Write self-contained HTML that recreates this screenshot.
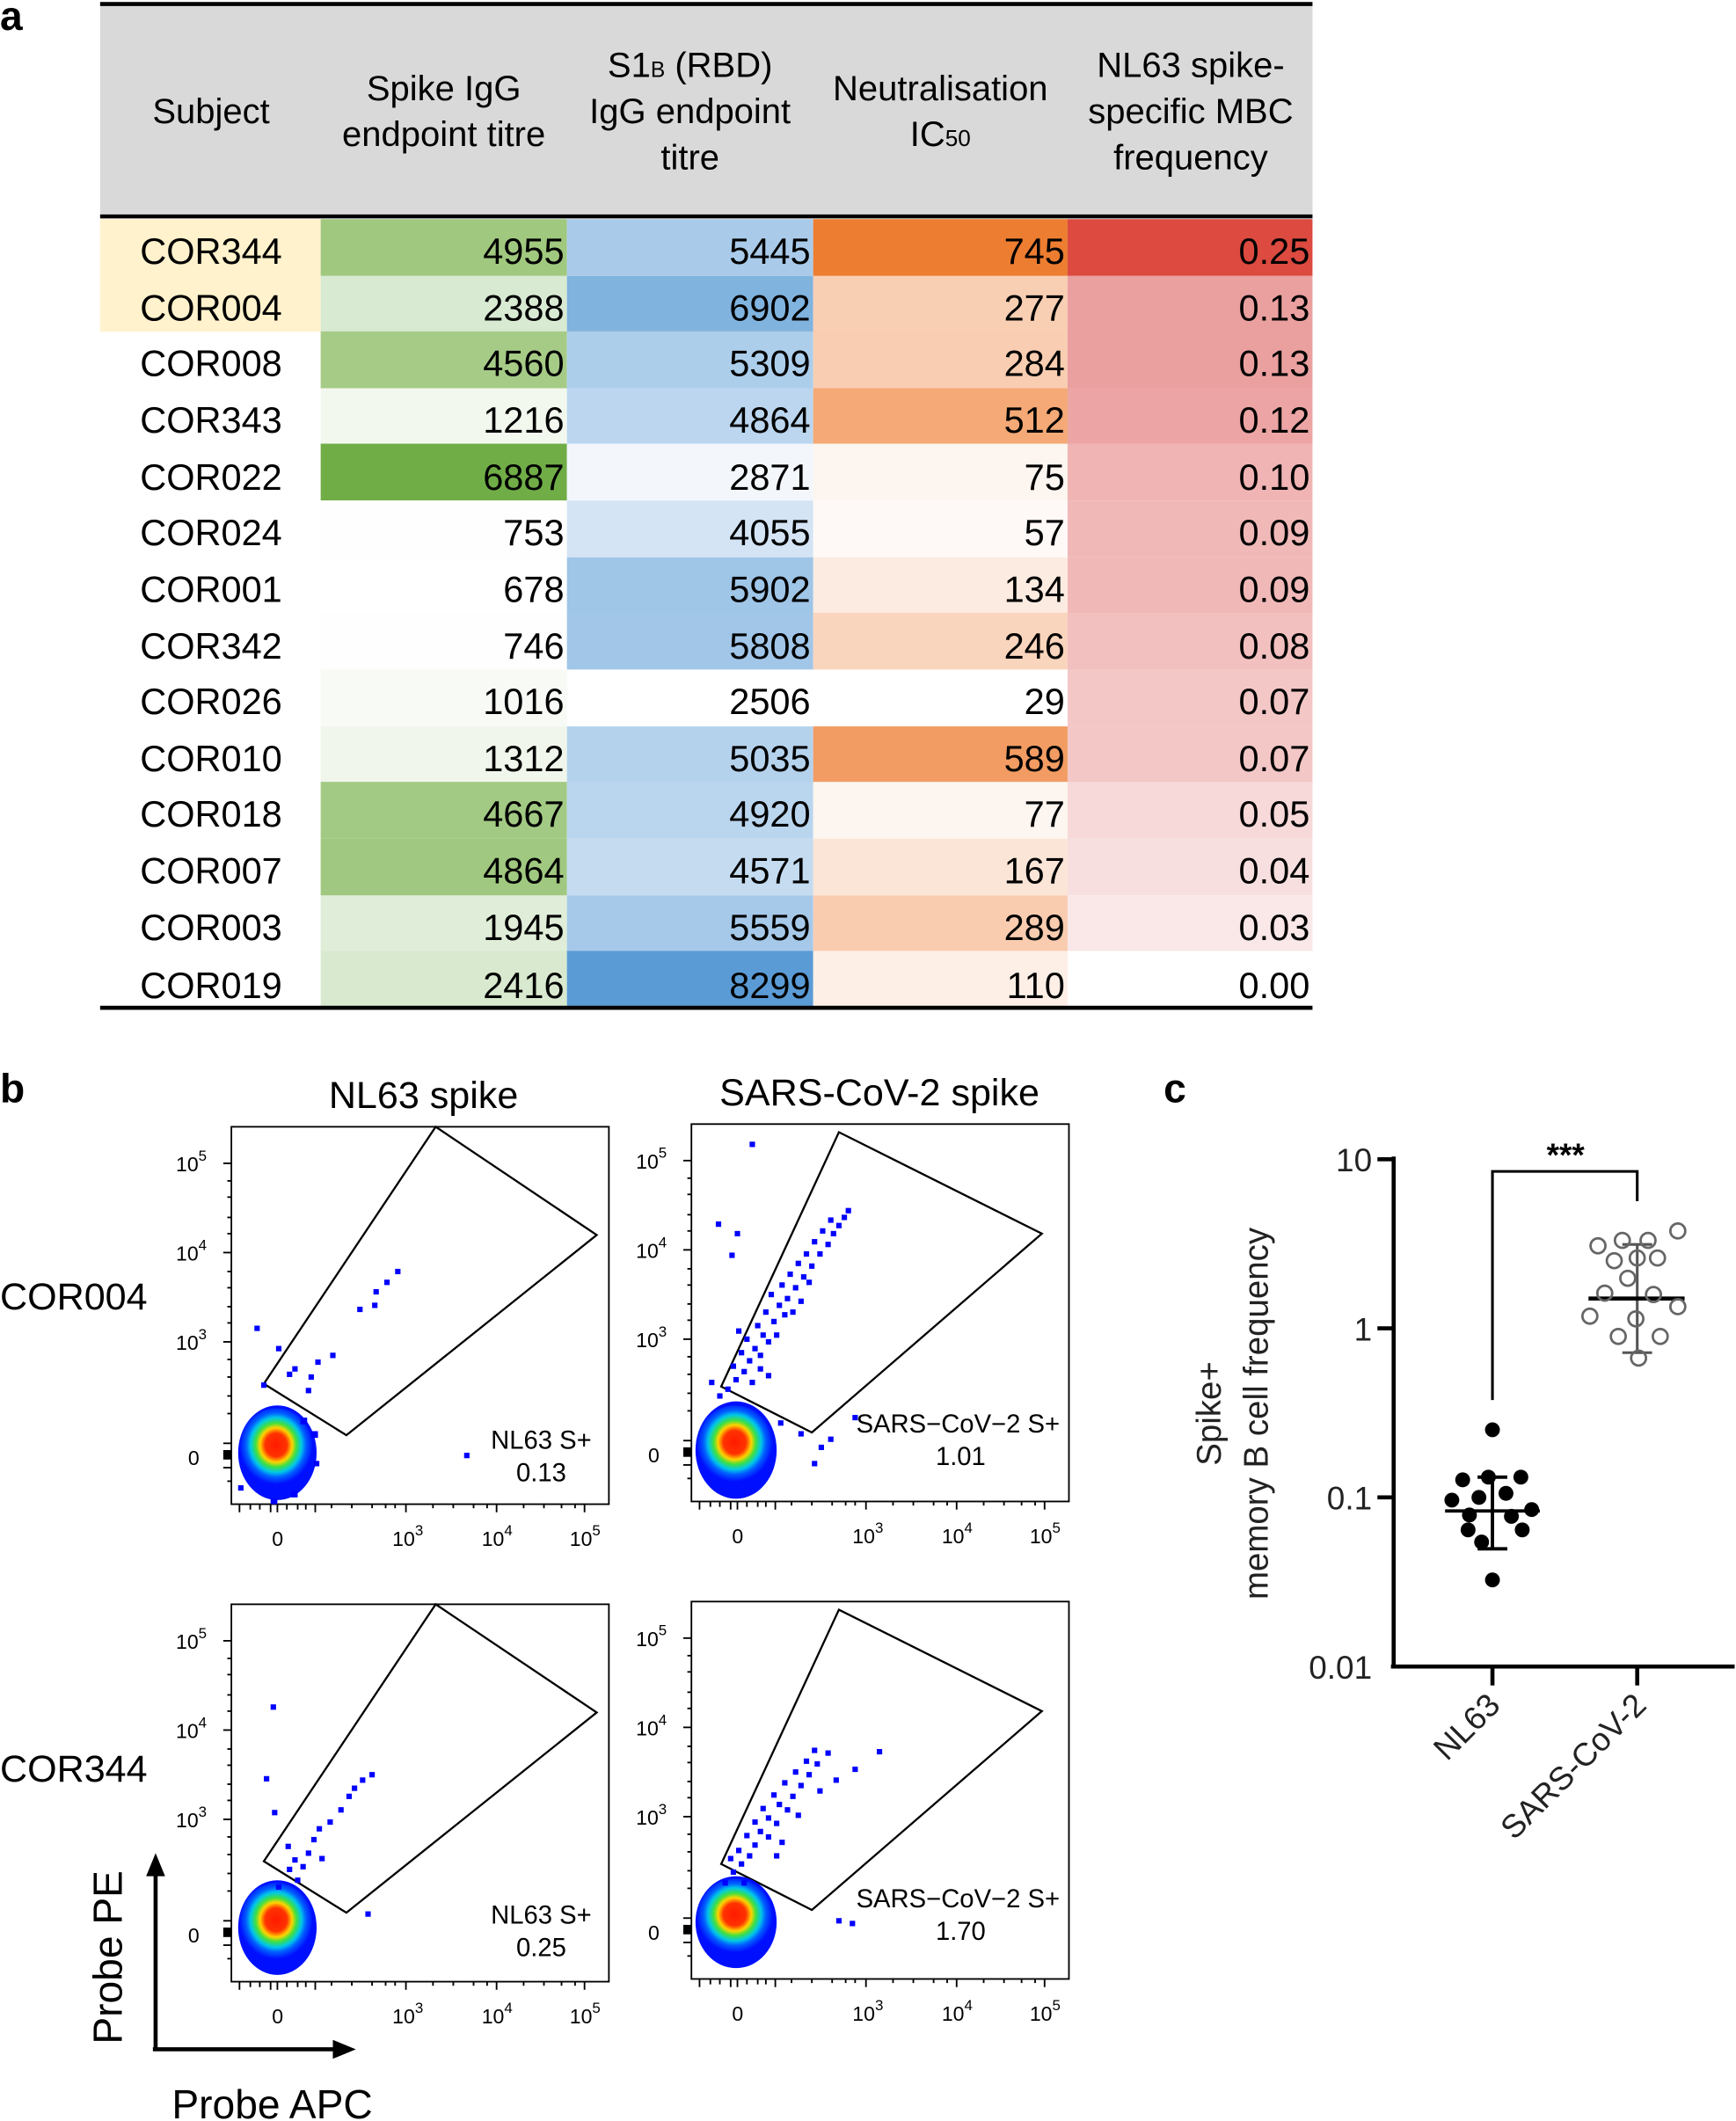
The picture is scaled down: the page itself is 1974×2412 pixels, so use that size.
<!DOCTYPE html>
<html><head><meta charset="utf-8"><style>
html,body{margin:0;padding:0;background:#fff}
svg{display:block}
text{font-family:"Liberation Sans","DejaVu Sans",sans-serif}
.t{font-size:27px;fill:#000}
.h{font-size:26px;fill:#000;text-anchor:middle}
.tk{font-family:"DejaVu Sans",sans-serif;font-size:15px;fill:#000}
</style></head><body>
<svg width="1974" height="2412" viewBox="0 0 1283 1568" preserveAspectRatio="none" xmlns="http://www.w3.org/2000/svg">
<defs>
<radialGradient id="cl" cx="50%" cy="47%" r="50%">
<stop offset="0" stop-color="#ff1a00"/><stop offset="0.3" stop-color="#ff3300"/>
<stop offset="0.44" stop-color="#ffd400"/><stop offset="0.56" stop-color="#40e040"/>
<stop offset="0.7" stop-color="#00c8e8"/><stop offset="0.82" stop-color="#0060ff"/>
<stop offset="1" stop-color="#0010ff"/></radialGradient>
</defs>
<text x="0" y="22" style="font-size:30px;font-weight:bold">a</text>
<rect x="74" y="3" width="896" height="157" fill="#d9d9d9"/>
<line x1="74" y1="3" x2="970" y2="3" stroke="#000" stroke-width="3"/>
<line x1="74" y1="160" x2="970" y2="160" stroke="#000" stroke-width="3"/>
<text class="h" x="156" y="91">Subject</text>
<text class="h" x="328" y="74">Spike IgG</text><text class="h" x="328" y="108">endpoint titre</text>
<text class="h" x="510" y="57">S1<tspan font-size="16">B</tspan> (RBD)</text><text class="h" x="510" y="91">IgG endpoint</text><text class="h" x="510" y="125">titre</text>
<text class="h" x="695" y="74">Neutralisation</text><text class="h" x="695" y="108">IC<tspan font-size="17">50</tspan></text>
<text class="h" x="880" y="57">NL63 spike-</text><text class="h" x="880" y="91">specific MBC</text><text class="h" x="880" y="125">frequency</text>
<g>
<rect x="74" y="162" width="163" height="83.2" fill="#fff2cc"/>
<rect x="237" y="162" width="182" height="42" fill="#a0c87f"/>
<rect x="237" y="204" width="182" height="42" fill="#d9ead3"/>
<rect x="237" y="245" width="182" height="42" fill="#a6cb87"/>
<rect x="237" y="287" width="182" height="42" fill="#f3f8ef"/>
<rect x="237" y="328" width="182" height="42" fill="#70ad47"/>
<rect x="237" y="370" width="182" height="42" fill="#fefefe"/>
<rect x="237" y="412" width="182" height="42" fill="#ffffff"/>
<rect x="237" y="453" width="182" height="42" fill="#fefefe"/>
<rect x="237" y="495" width="182" height="42" fill="#f7faf5"/>
<rect x="237" y="537" width="182" height="42" fill="#f0f6ec"/>
<rect x="237" y="578" width="182" height="42" fill="#a3ca84"/>
<rect x="237" y="620" width="182" height="42" fill="#a0c880"/>
<rect x="237" y="662" width="182" height="42" fill="#e0eed9"/>
<rect x="237" y="703" width="182" height="42" fill="#d8e9cf"/>
<rect x="419" y="162" width="182" height="42" fill="#a9cbe9"/>
<rect x="419" y="204" width="182" height="42" fill="#80b3de"/>
<rect x="419" y="245" width="182" height="42" fill="#adceeb"/>
<rect x="419" y="287" width="182" height="42" fill="#bbd6ee"/>
<rect x="419" y="328" width="182" height="42" fill="#f3f7fc"/>
<rect x="419" y="370" width="182" height="42" fill="#d4e4f4"/>
<rect x="419" y="412" width="182" height="42" fill="#9fc5e7"/>
<rect x="419" y="453" width="182" height="42" fill="#a1c6e8"/>
<rect x="419" y="495" width="182" height="42" fill="#ffffff"/>
<rect x="419" y="537" width="182" height="42" fill="#b5d2ed"/>
<rect x="419" y="578" width="182" height="42" fill="#bad5ee"/>
<rect x="419" y="620" width="182" height="42" fill="#c4dbf0"/>
<rect x="419" y="662" width="182" height="42" fill="#a6c9e9"/>
<rect x="419" y="703" width="182" height="42" fill="#5b9bd5"/>
<rect x="601" y="162" width="188" height="42" fill="#ed7d31"/>
<rect x="601" y="204" width="188" height="42" fill="#f9cfb4"/>
<rect x="601" y="245" width="188" height="42" fill="#f9cdb1"/>
<rect x="601" y="287" width="188" height="42" fill="#f4a976"/>
<rect x="601" y="328" width="188" height="42" fill="#fdf5f0"/>
<rect x="601" y="370" width="188" height="42" fill="#fef9f6"/>
<rect x="601" y="412" width="188" height="42" fill="#fcebe0"/>
<rect x="601" y="453" width="188" height="42" fill="#fad5bd"/>
<rect x="601" y="495" width="188" height="42" fill="#ffffff"/>
<rect x="601" y="537" width="188" height="42" fill="#f29c63"/>
<rect x="601" y="578" width="188" height="42" fill="#fdf5f0"/>
<rect x="601" y="620" width="188" height="42" fill="#fbe5d6"/>
<rect x="601" y="662" width="188" height="42" fill="#f9ccb0"/>
<rect x="601" y="703" width="188" height="42" fill="#fdefe6"/>
<rect x="789" y="162" width="181" height="42" fill="#dc4a40"/>
<rect x="789" y="204" width="181" height="42" fill="#eba0a0"/>
<rect x="789" y="245" width="181" height="42" fill="#eba0a0"/>
<rect x="789" y="287" width="181" height="42" fill="#eca5a4"/>
<rect x="789" y="328" width="181" height="42" fill="#efb4b3"/>
<rect x="789" y="370" width="181" height="42" fill="#f0b9b8"/>
<rect x="789" y="412" width="181" height="42" fill="#f0b9b8"/>
<rect x="789" y="453" width="181" height="42" fill="#f2c0bf"/>
<rect x="789" y="495" width="181" height="42" fill="#f3c7c6"/>
<rect x="789" y="537" width="181" height="42" fill="#f3c7c6"/>
<rect x="789" y="578" width="181" height="42" fill="#f7d9d9"/>
<rect x="789" y="620" width="181" height="42" fill="#f8dfdf"/>
<rect x="789" y="662" width="181" height="42" fill="#fae7e7"/>
<rect x="789" y="703" width="181" height="42" fill="#ffffff"/>
</g>
<line x1="74" y1="745" x2="970" y2="745" stroke="#000" stroke-width="3"/>
<g class="t">
<text x="156" y="195" text-anchor="middle">COR344</text><text x="417" y="195" text-anchor="end">4955</text><text x="599" y="195" text-anchor="end">5445</text><text x="787" y="195" text-anchor="end">745</text><text x="968" y="195" text-anchor="end">0.25</text>
<text x="156" y="237" text-anchor="middle">COR004</text><text x="417" y="237" text-anchor="end">2388</text><text x="599" y="237" text-anchor="end">6902</text><text x="787" y="237" text-anchor="end">277</text><text x="968" y="237" text-anchor="end">0.13</text>
<text x="156" y="278" text-anchor="middle">COR008</text><text x="417" y="278" text-anchor="end">4560</text><text x="599" y="278" text-anchor="end">5309</text><text x="787" y="278" text-anchor="end">284</text><text x="968" y="278" text-anchor="end">0.13</text>
<text x="156" y="320" text-anchor="middle">COR343</text><text x="417" y="320" text-anchor="end">1216</text><text x="599" y="320" text-anchor="end">4864</text><text x="787" y="320" text-anchor="end">512</text><text x="968" y="320" text-anchor="end">0.12</text>
<text x="156" y="362" text-anchor="middle">COR022</text><text x="417" y="362" text-anchor="end">6887</text><text x="599" y="362" text-anchor="end">2871</text><text x="787" y="362" text-anchor="end">75</text><text x="968" y="362" text-anchor="end">0.10</text>
<text x="156" y="403" text-anchor="middle">COR024</text><text x="417" y="403" text-anchor="end">753</text><text x="599" y="403" text-anchor="end">4055</text><text x="787" y="403" text-anchor="end">57</text><text x="968" y="403" text-anchor="end">0.09</text>
<text x="156" y="445" text-anchor="middle">COR001</text><text x="417" y="445" text-anchor="end">678</text><text x="599" y="445" text-anchor="end">5902</text><text x="787" y="445" text-anchor="end">134</text><text x="968" y="445" text-anchor="end">0.09</text>
<text x="156" y="487" text-anchor="middle">COR342</text><text x="417" y="487" text-anchor="end">746</text><text x="599" y="487" text-anchor="end">5808</text><text x="787" y="487" text-anchor="end">246</text><text x="968" y="487" text-anchor="end">0.08</text>
<text x="156" y="528" text-anchor="middle">COR026</text><text x="417" y="528" text-anchor="end">1016</text><text x="599" y="528" text-anchor="end">2506</text><text x="787" y="528" text-anchor="end">29</text><text x="968" y="528" text-anchor="end">0.07</text>
<text x="156" y="570" text-anchor="middle">COR010</text><text x="417" y="570" text-anchor="end">1312</text><text x="599" y="570" text-anchor="end">5035</text><text x="787" y="570" text-anchor="end">589</text><text x="968" y="570" text-anchor="end">0.07</text>
<text x="156" y="611" text-anchor="middle">COR018</text><text x="417" y="611" text-anchor="end">4667</text><text x="599" y="611" text-anchor="end">4920</text><text x="787" y="611" text-anchor="end">77</text><text x="968" y="611" text-anchor="end">0.05</text>
<text x="156" y="653" text-anchor="middle">COR007</text><text x="417" y="653" text-anchor="end">4864</text><text x="599" y="653" text-anchor="end">4571</text><text x="787" y="653" text-anchor="end">167</text><text x="968" y="653" text-anchor="end">0.04</text>
<text x="156" y="695" text-anchor="middle">COR003</text><text x="417" y="695" text-anchor="end">1945</text><text x="599" y="695" text-anchor="end">5559</text><text x="787" y="695" text-anchor="end">289</text><text x="968" y="695" text-anchor="end">0.03</text>
<text x="156" y="738" text-anchor="middle">COR019</text><text x="417" y="738" text-anchor="end">2416</text><text x="599" y="738" text-anchor="end">8299</text><text x="787" y="738" text-anchor="end">110</text><text x="968" y="738" text-anchor="end">0.00</text>
</g>

<text x="0" y="815" style="font-size:30px;font-weight:bold">b</text>
<text x="313" y="819" style="font-size:28px" text-anchor="middle">NL63 spike</text>
<text x="650" y="817" style="font-size:28px" text-anchor="middle">SARS-CoV-2 spike</text>
<text x="0" y="968" style="font-size:28px">COR004</text>
<text x="0" y="1317" style="font-size:28px">COR344</text>

<g id="p1">
<rect x="171" y="833" width="279" height="279" fill="none" stroke="#000" stroke-width="1.2"/>
<g stroke="#000" stroke-width="1.2">
<line x1="165" y1="860" x2="171" y2="860"/><line x1="165" y1="926" x2="171" y2="926"/><line x1="165" y1="992" x2="171" y2="992"/><line x1="165" y1="1067" x2="171" y2="1067"/><line x1="165" y1="1085" x2="171" y2="1085"/>
<line x1="168" y1="873" x2="171" y2="873"/><line x1="168" y1="885" x2="171" y2="885"/><line x1="168" y1="900" x2="171" y2="900"/><line x1="168" y1="912" x2="171" y2="912"/><line x1="168" y1="940" x2="171" y2="940"/><line x1="168" y1="952" x2="171" y2="952"/><line x1="168" y1="966" x2="171" y2="966"/><line x1="168" y1="978" x2="171" y2="978"/><line x1="168" y1="1005" x2="171" y2="1005"/><line x1="168" y1="1018" x2="171" y2="1018"/><line x1="168" y1="1032" x2="171" y2="1032"/><line x1="168" y1="1045" x2="171" y2="1045"/><line x1="168" y1="1095" x2="171" y2="1095"/>
<line x1="177" y1="1112" x2="177" y2="1118"/><line x1="233" y1="1112" x2="233" y2="1118"/><line x1="300" y1="1112" x2="300" y2="1118"/><line x1="367" y1="1112" x2="367" y2="1118"/><line x1="432" y1="1112" x2="432" y2="1118"/>
<line x1="245" y1="1112" x2="245" y2="1115"/><line x1="260" y1="1112" x2="260" y2="1115"/><line x1="275" y1="1112" x2="275" y2="1115"/><line x1="285" y1="1112" x2="285" y2="1115"/><line x1="292" y1="1112" x2="292" y2="1115"/><line x1="320" y1="1112" x2="320" y2="1115"/><line x1="335" y1="1112" x2="335" y2="1115"/><line x1="350" y1="1112" x2="350" y2="1115"/><line x1="360" y1="1112" x2="360" y2="1115"/><line x1="387" y1="1112" x2="387" y2="1115"/><line x1="402" y1="1112" x2="402" y2="1115"/><line x1="415" y1="1112" x2="415" y2="1115"/><line x1="425" y1="1112" x2="425" y2="1115"/>
<line x1="185" y1="1112" x2="185" y2="1116"/><line x1="192" y1="1112" x2="192" y2="1116"/><line x1="200" y1="1112" x2="200" y2="1118"/><line x1="205" y1="1112" x2="205" y2="1118"/><line x1="212" y1="1112" x2="212" y2="1116"/><line x1="220" y1="1112" x2="220" y2="1116"/><line x1="226" y1="1112" x2="226" y2="1116"/>
</g>
<rect x="165" y="1072" width="6" height="7" fill="#000"/>
<g class="tk">
<text x="130" y="866">10<tspan dy="-8" font-size="11">5</tspan></text>
<text x="130" y="932">10<tspan dy="-8" font-size="11">4</tspan></text>
<text x="130" y="998">10<tspan dy="-8" font-size="11">3</tspan></text>
<text x="139" y="1083">0</text>
<text x="201" y="1143">0</text>
<text x="290" y="1143">10<tspan dy="-8" font-size="11">3</tspan></text>
<text x="356" y="1143">10<tspan dy="-8" font-size="11">4</tspan></text>
<text x="421" y="1143">10<tspan dy="-8" font-size="11">5</tspan></text>
</g>
</g>
<use href="#p1" x="340" y="-2"/>
<use href="#p1" x="0" y="353"/>
<use href="#p1" x="340" y="351"/>

<g fill="none" stroke="#000" stroke-width="1.5">
<polygon points="195,1023 322,833 441,913 256,1061"/>
<polygon points="533,1025 620,837 770,912 600,1059"/>
<polygon points="195,1376 322,1186 441,1266 256,1414"/>
<polygon points="533,1378 620,1190 770,1265 600,1412"/>
</g>
<g>
<ellipse cx="205" cy="1074" rx="29" ry="35" fill="#0010ff"/>
<ellipse cx="204" cy="1070" rx="27" ry="29" fill="url(#cl)"/>
<ellipse cx="544" cy="1072" rx="30" ry="36" fill="#0010ff"/>
<ellipse cx="543" cy="1068" rx="28" ry="29" fill="url(#cl)"/>
<ellipse cx="205" cy="1425" rx="29" ry="35" fill="#0010ff"/>
<ellipse cx="204" cy="1421" rx="27" ry="29" fill="url(#cl)"/>
<ellipse cx="544" cy="1421" rx="30" ry="34" fill="#0010ff"/>
<ellipse cx="543" cy="1417" rx="28" ry="28" fill="url(#cl)"/>
</g>
<g fill="#0000ff">
<rect x="188" y="980" width="4" height="4"/><rect x="204" y="995" width="4" height="4"/><rect x="212" y="1014" width="4" height="4"/><rect x="216" y="1010" width="4" height="4"/><rect x="226" y="1026" width="4" height="4"/><rect x="233" y="1005" width="4" height="4"/><rect x="244" y="1000" width="4" height="4"/><rect x="264" y="966" width="4" height="4"/><rect x="275" y="963" width="4" height="4"/><rect x="276" y="953" width="4" height="4"/><rect x="284" y="946" width="4" height="4"/><rect x="292" y="938" width="4" height="4"/><rect x="228" y="1016" width="4" height="4"/><rect x="343" y="1074" width="4" height="4"/><rect x="193" y="1022" width="4" height="4"/>
<rect x="222" y="1048" width="5" height="5"/><rect x="230" y="1058" width="5" height="5"/><rect x="200" y="1108" width="5" height="4"/><rect x="215" y="1102" width="5" height="5"/><rect x="232" y="1080" width="4" height="4"/><rect x="176" y="1098" width="4" height="4"/>
<rect x="554" y="844" width="4" height="4"/><rect x="529" y="903" width="4" height="4"/><rect x="543" y="910" width="4" height="4"/><rect x="539" y="926" width="4" height="4"/>
<rect x="536" y="1025" width="4" height="4"/><rect x="542" y="1018" width="4" height="4"/><rect x="548" y="1012" width="4" height="4"/><rect x="540" y="1008" width="4" height="4"/><rect x="552" y="1004" width="4" height="4"/><rect x="546" y="998" width="4" height="4"/><rect x="556" y="995" width="4" height="4"/><rect x="560" y="1010" width="4" height="4"/><rect x="550" y="988" width="4" height="4"/><rect x="562" y="985" width="4" height="4"/><rect x="566" y="990" width="4" height="4"/><rect x="558" y="978" width="4" height="4"/><rect x="570" y="975" width="4" height="4"/><rect x="564" y="968" width="4" height="4"/><rect x="574" y="963" width="4" height="4"/><rect x="568" y="955" width="4" height="4"/><rect x="580" y="958" width="4" height="4"/><rect x="576" y="948" width="4" height="4"/><rect x="586" y="950" width="4" height="4"/><rect x="582" y="940" width="4" height="4"/><rect x="592" y="942" width="4" height="4"/><rect x="588" y="932" width="4" height="4"/><rect x="598" y="934" width="4" height="4"/><rect x="594" y="925" width="4" height="4"/><rect x="604" y="925" width="4" height="4"/><rect x="600" y="916" width="4" height="4"/><rect x="610" y="918" width="4" height="4"/><rect x="606" y="908" width="4" height="4"/><rect x="614" y="910" width="4" height="4"/><rect x="612" y="900" width="4" height="4"/><rect x="618" y="904" width="4" height="4"/><rect x="622" y="898" width="4" height="4"/><rect x="625" y="893" width="4" height="4"/><rect x="572" y="985" width="4" height="4"/><rect x="560" y="1000" width="4" height="4"/><rect x="578" y="970" width="4" height="4"/><rect x="590" y="960" width="4" height="4"/><rect x="596" y="946" width="4" height="4"/><rect x="554" y="1020" width="4" height="4"/><rect x="566" y="1015" width="4" height="4"/><rect x="530" y="1030" width="4" height="4"/><rect x="524" y="1020" width="4" height="4"/><rect x="584" y="968" width="4" height="4"/><rect x="544" y="982" width="4" height="4"/><rect x="575" y="1050" width="4" height="4"/><rect x="590" y="1058" width="4" height="4"/><rect x="605" y="1068" width="4" height="4"/><rect x="612" y="1062" width="4" height="4"/><rect x="630" y="1046" width="4" height="4"/><rect x="600" y="1080" width="4" height="4"/>
<rect x="200" y="1260" width="4" height="4"/><rect x="195" y="1313" width="4" height="4"/><rect x="201" y="1338" width="4" height="4"/><rect x="211" y="1363" width="4" height="4"/><rect x="216" y="1373" width="4" height="4"/><rect x="222" y="1378" width="4" height="4"/><rect x="230" y="1358" width="4" height="4"/><rect x="234" y="1350" width="4" height="4"/><rect x="242" y="1345" width="4" height="4"/><rect x="250" y="1336" width="4" height="4"/><rect x="256" y="1326" width="4" height="4"/><rect x="260" y="1320" width="4" height="4"/><rect x="266" y="1314" width="4" height="4"/><rect x="273" y="1310" width="4" height="4"/><rect x="270" y="1413" width="4" height="4"/><rect x="218" y="1388" width="4" height="4"/><rect x="204" y="1393" width="4" height="4"/><rect x="226" y="1368" width="4" height="4"/><rect x="236" y="1372" width="4" height="4"/><rect x="212" y="1380" width="4" height="4"/>
<rect x="534" y="1390" width="4" height="4"/><rect x="540" y="1382" width="4" height="4"/><rect x="546" y="1376" width="4" height="4"/><rect x="552" y="1370" width="4" height="4"/><rect x="544" y="1366" width="4" height="4"/><rect x="556" y="1362" width="4" height="4"/><rect x="550" y="1355" width="4" height="4"/><rect x="560" y="1352" width="4" height="4"/><rect x="566" y="1356" width="4" height="4"/><rect x="556" y="1345" width="4" height="4"/><rect x="566" y="1342" width="4" height="4"/><rect x="572" y="1346" width="4" height="4"/><rect x="562" y="1335" width="4" height="4"/><rect x="574" y="1332" width="4" height="4"/><rect x="580" y="1336" width="4" height="4"/><rect x="570" y="1325" width="4" height="4"/><rect x="584" y="1326" width="4" height="4"/><rect x="578" y="1316" width="4" height="4"/><rect x="590" y="1318" width="4" height="4"/><rect x="586" y="1308" width="4" height="4"/><rect x="596" y="1310" width="4" height="4"/><rect x="594" y="1300" width="4" height="4"/><rect x="602" y="1302" width="4" height="4"/><rect x="600" y="1292" width="4" height="4"/><rect x="610" y="1294" width="4" height="4"/><rect x="616" y="1314" width="4" height="4"/><rect x="630" y="1306" width="4" height="4"/><rect x="648" y="1293" width="4" height="4"/><rect x="576" y="1360" width="4" height="4"/><rect x="588" y="1340" width="4" height="4"/><rect x="604" y="1322" width="4" height="4"/><rect x="572" y="1370" width="4" height="4"/><rect x="548" y="1390" width="4" height="4"/><rect x="618" y="1418" width="4" height="4"/><rect x="628" y="1420" width="4" height="4"/><rect x="538" y="1372" width="4" height="4"/>
</g>
<g style="font-family:'DejaVu Sans',sans-serif;font-size:19px" text-anchor="middle">
<text x="400" y="1071">NL63 S+</text><text x="400" y="1095">0.13</text>
<text x="708" y="1059">SARS−CoV−2 S+</text><text x="710" y="1083">1.01</text>
<text x="400" y="1422">NL63 S+</text><text x="400" y="1446">0.25</text>
<text x="708" y="1410">SARS−CoV−2 S+</text><text x="710" y="1434">1.70</text>
</g>
<g stroke="#000" stroke-width="3" fill="none">
<line x1="115" y1="1515" x2="115" y2="1385"/><line x1="113" y1="1515" x2="250" y2="1515"/>
</g>
<polygon points="115,1370 108,1387 122,1387" fill="#000"/>
<polygon points="263,1515 246,1508 246,1522" fill="#000"/>
<text transform="translate(90,1447) rotate(-90)" style="font-size:30px" text-anchor="middle">Probe PE</text>
<text x="127" y="1566" style="font-size:30px">Probe APC</text>

<text x="860" y="815" style="font-size:30px;font-weight:bold">c</text>
<g stroke="#000" stroke-width="3">
<line x1="1030" y1="855" x2="1030" y2="1233"/><line x1="1028" y1="1232" x2="1282" y2="1232"/>
<line x1="1018" y1="857" x2="1030" y2="857"/><line x1="1018" y1="982" x2="1030" y2="982"/><line x1="1018" y1="1107" x2="1030" y2="1107"/>
<line x1="1103" y1="1232" x2="1103" y2="1246"/><line x1="1210" y1="1232" x2="1210" y2="1246"/>
</g>
<g style="font-size:24px;fill:#222" text-anchor="end">
<text x="1014" y="866">10</text><text x="1014" y="991">1</text><text x="1014" y="1116">0.1</text><text x="1014" y="1241">0.01</text>
</g>
<text transform="translate(1110,1262) rotate(-45)" style="font-size:24px;fill:#222" text-anchor="end">NL63</text>
<text transform="translate(1218,1262) rotate(-45)" style="font-size:24px;fill:#222" text-anchor="end">SARS-CoV-2</text>
<text transform="translate(902,1045) rotate(-90)" style="font-size:25px;fill:#222" text-anchor="middle">Spike+</text>
<text transform="translate(937,1045) rotate(-90)" style="font-size:25px;fill:#222" text-anchor="middle">memory B cell frequency</text>
<polyline points="1103,1035 1103,866 1210,866 1210,888" fill="none" stroke="#000" stroke-width="2"/>
<text x="1157" y="862" style="font-size:24px;font-weight:bold" text-anchor="middle">***</text>
<g stroke="#000" stroke-width="2.5">
<line x1="1103" y1="1092" x2="1103" y2="1145"/><line x1="1092" y1="1092" x2="1114" y2="1092"/><line x1="1092" y1="1145" x2="1114" y2="1145"/>
<line x1="1068" y1="1117" x2="1138" y2="1117"/>
</g>
<g fill="#000">
<circle cx="1103" cy="1057" r="5.5"/><circle cx="1081" cy="1094" r="5.5"/><circle cx="1100" cy="1092" r="5.5"/><circle cx="1124" cy="1092" r="5.5"/><circle cx="1073" cy="1109" r="5.5"/><circle cx="1093" cy="1107" r="5.5"/><circle cx="1113" cy="1104" r="5.5"/><circle cx="1132" cy="1116" r="5.5"/><circle cx="1086" cy="1120" r="5.5"/><circle cx="1117" cy="1121" r="5.5"/><circle cx="1085" cy="1131" r="5.5"/><circle cx="1125" cy="1131" r="5.5"/><circle cx="1095" cy="1140" r="5.5"/><circle cx="1103" cy="1168" r="5.5"/>
</g>
<g stroke="#555" stroke-width="2">
<line x1="1210" y1="920" x2="1210" y2="1000"/><line x1="1199" y1="920" x2="1221" y2="920"/><line x1="1199" y1="1000" x2="1221" y2="1000"/>
</g>
<line x1="1174" y1="960" x2="1245" y2="960" stroke="#000" stroke-width="3"/>
<g fill="none" stroke="#666" stroke-width="1.8">
<circle cx="1181" cy="921" r="5.5"/><circle cx="1199" cy="917" r="5.5"/><circle cx="1218" cy="917" r="5.5"/><circle cx="1240" cy="910" r="5.5"/><circle cx="1193" cy="932" r="5.5"/><circle cx="1210" cy="930" r="5.5"/><circle cx="1225" cy="930" r="5.5"/><circle cx="1203" cy="945" r="5.5"/><circle cx="1186" cy="956" r="5.5"/><circle cx="1222" cy="957" r="5.5"/><circle cx="1240" cy="966" r="5.5"/><circle cx="1175" cy="973" r="5.5"/><circle cx="1209" cy="975" r="5.5"/><circle cx="1196" cy="988" r="5.5"/><circle cx="1227" cy="988" r="5.5"/><circle cx="1211" cy="1004" r="5.5"/>
</g>
</svg>
</body></html>
